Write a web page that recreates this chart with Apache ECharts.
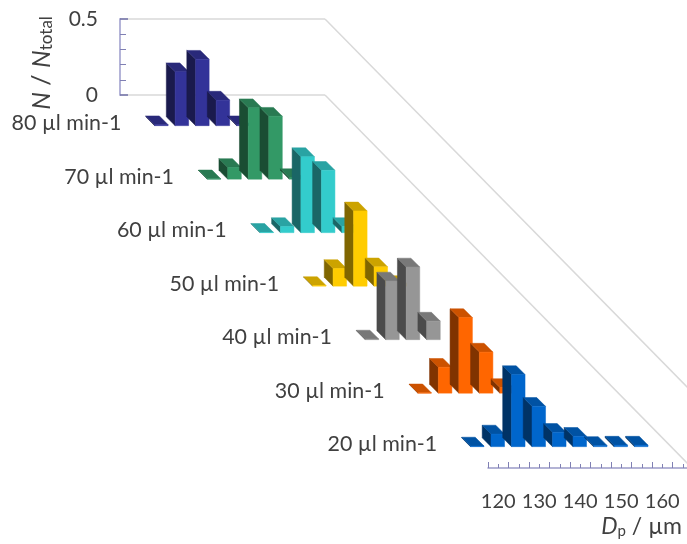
<!DOCTYPE html>
<html><head><meta charset="utf-8">
<style>html,body{margin:0;padding:0;background:#fff}#c{width:687px;height:544px}</style>
<script src="https://cdn.jsdelivr.net/npm/echarts@6/dist/echarts.min.js"></script>
</head><body><div id="c"></div>
<script>
// Data ---------------------------------------------------------------
const diameters = ['120','125','130','135','140','145','150','155','160','165'];
const flowLabels = ['80 µl min-1','70 µl min-1','60 µl min-1','50 µl min-1','40 µl min-1','30 µl min-1','20 µl min-1'];
const flow80 = [0.006,0.355,0.437,0.168,0.006];
const flow70 = [0.002,0.077,0.470,0.414,0.010];
const flow60 = [0.002,0.040,0.500,0.410,0.040];
const flow50 = [0.004,0.116,0.495,0.127,0.010];
const flow40 = [0.004,0.386,0.478,0.122];
const flow30 = [0.002,0.170,0.497,0.270,0.037];
const flow20 = [0.004,0.083,0.474,0.265,0.094,0.068,0.008,0.010,0.010];
const frontColors = ['#333399','#339966','#33CCCC','#FFCC00','#969696','#FF6600','#0066CC'];
const sideColors  = ['#1a1a4d','#1a4d33','#1a6666','#806600','#4b4b4b','#803300','#003366'];
const topColors   = ['#29297a','#297a52','#29a3a3','#cca300','#787878','#cc5200','#0052a3'];
const yTicks = [0, 0.5];
const minorCategories = diameters.flatMap(d => [d, d + '.5']);
const allFlows = [flow80,flow70,flow60,flow50,flow40,flow30,flow20];

// Oblique projection --------------------------------------------------
const DEPTH_X = 52.65, DEPTH_Y = 53.5, BAR_DEPTH_X = 4.4, BAR_DEPTH_Y = 4.4, BAR_RATIO = 0.66;
const FONT = 'Lato, "Open Sans", sans-serif';
const TEXT = '#404040';

function quad(pts, fill){
  return {type:'polygon', shape:{points:pts}, style:{fill, stroke:fill, lineWidth:0.5}};
}
function barRenderer(depth){
  return function(params, api){
    const top = api.coord([api.value(0), api.value(1)]);
    const base = api.coord([api.value(0), 0]);
    const w = api.size([1,0])[0] * BAR_RATIO;
    const cx = top[0] + DEPTH_X*(depth+0.5) + 0.4;
    const oy = DEPTH_Y*(depth+0.5) - 0.5;
    const fl = cx + BAR_DEPTH_X - w/2, fr = fl + w;
    const fb = base[1] + oy + BAR_DEPTH_Y, ft = top[1] + oy + BAR_DEPTH_Y;
    const dx = 2*BAR_DEPTH_X, dy = 2*BAR_DEPTH_Y;
    return {type:'group', children:[
      quad([[fl,fb],[fl,ft],[fl-dx,ft-dy],[fl-dx,fb-dy]], sideColors[depth]),
      quad([[fl,ft],[fr,ft],[fr-dx,ft-dy],[fl-dx,ft-dy]], topColors[depth]),
      quad([[fl,fb],[fr,fb],[fr,ft],[fl,ft]], frontColors[depth])
    ]};
  };
}
const barSeries = allFlows.map((vals, depth) => ({
  type:'custom', name:flowLabels[depth], coordinateSystem:'cartesian2d',
  xAxisIndex:0, yAxisIndex:0, clip:false, z:3+depth,
  encode:{x:0,y:1},
  data: vals.map((v,i)=>[i,v]),
  renderItem: barRenderer(depth)
}));

const labelSeries = {
  type:'custom', coordinateSystem:'cartesian2d', xAxisIndex:0, yAxisIndex:0, clip:false, z:20,
  encode:{x:0,y:1}, silent:true,
  data: flowLabels.map((t,d)=>[0,0,d]),
  renderItem(params, api){
    const d = api.value(2);
    const p = api.coord([0,0]);
    const left = p[0] - api.size([1,0])[0]/2;
    return {type:'text', style:{
      text: flowLabels[d], x: left + DEPTH_X*(d+0.5) - 25, y: p[1] + DEPTH_Y*(d+0.5) + 1.5,
      textAlign:'right', textVerticalAlign:'middle', fill:TEXT, font:'21.4px '+FONT
    }};
  }
};
const wallSeries = {
  type:'custom', coordinateSystem:'cartesian2d', xAxisIndex:0, yAxisIndex:0, clip:false, z:1,
  encode:{x:0,y:1}, silent:true,
  data: yTicks.map(v=>[diameters.length-1, v]),
  renderItem(params, api){
    const p = api.coord([api.value(0), api.value(1)]);
    const x = p[0] + api.size([1,0])[0]/2, y = p[1];
    return {type:'line', shape:{x1:x,y1:y,x2:x+7*DEPTH_X,y2:y+7*DEPTH_Y},
      style:{stroke:'#d9d9d9', lineWidth:1.5}};
  }
};

const chart = echarts.init(document.getElementById('c'), null, {renderer:'canvas'});
chart.setOption({
  animation:false,
  backgroundColor:'#fff',
  title:{
    text:'{i|D}{s|p}{n| / µm}', right:0, top:510,
    textStyle:{fontWeight:'normal',rich:{
      i:{fontFamily:FONT,fontSize:23,fontStyle:'italic',fontWeight:'normal',color:TEXT},
      s:{fontFamily:FONT,fontSize:15,fontWeight:'normal',color:TEXT,padding:[9,0,0,0]},
      n:{fontFamily:FONT,fontSize:23,fontWeight:'normal',color:TEXT}
    }}
  },
  grid:[
    {left:120, top:19, width:205, height:76, outerBoundsMode:'none'},
    {left:488, top:392, width:205, height:76, outerBoundsMode:'none'}
  ],
  xAxis:[
    {gridIndex:0, type:'category', data:diameters, show:false},
    {gridIndex:1, type:'category', data:diameters, position:'bottom',
      axisLine:{lineStyle:{color:'#9a9ac8',width:1.5}},
      axisTick:{show:true,inside:true,length:6,alignWithLabel:false,interval:0,lineStyle:{color:'#8080b4',width:1}},
      axisLabel:{interval:1,margin:24,fontFamily:FONT,fontSize:20,color:TEXT,hideOverlap:false}},
    {gridIndex:1, type:'category', data:minorCategories, position:'bottom',
      axisLine:{show:false},
      axisTick:{show:true,inside:true,length:4,interval:0,lineStyle:{color:'#8080b4',width:1}},
      axisLabel:{show:false}}
  ],
  yAxis:[
    {gridIndex:0, type:'value', min:0, max:0.5, interval:0.5,
      name:'{i|N}{n| / }{i|N}{s|total}', nameLocation:'middle', nameGap:65, nameRotate:90,
      nameTextStyle:{padding:[0,12,0,0],rich:{
        i:{fontFamily:FONT,fontSize:25,fontStyle:'italic',color:TEXT},
        n:{fontFamily:FONT,fontSize:25,color:TEXT},
        s:{fontFamily:FONT,fontSize:17,color:TEXT,padding:[9,0,0,0]}
      }},
      axisLine:{show:true,lineStyle:{color:'#b4b4d8',width:2}},
      axisTick:{show:true,inside:true,length:8,lineStyle:{color:'#7070a8',width:1.5}},
      minorTick:{show:true,splitNumber:5,length:6,lineStyle:{color:'#8080b4',width:1}},
      splitLine:{show:true,lineStyle:{color:'#d9d9d9',width:1.5}},
      axisLabel:{margin:22,padding:[4,0,0,0],fontFamily:FONT,fontSize:21,color:TEXT,formatter:v=>v===0?'0':String(v)}},
    {gridIndex:1, type:'value', min:0, max:0.5, show:false}
  ],
  series:[wallSeries, ...barSeries, labelSeries]
});
</script></body></html>
